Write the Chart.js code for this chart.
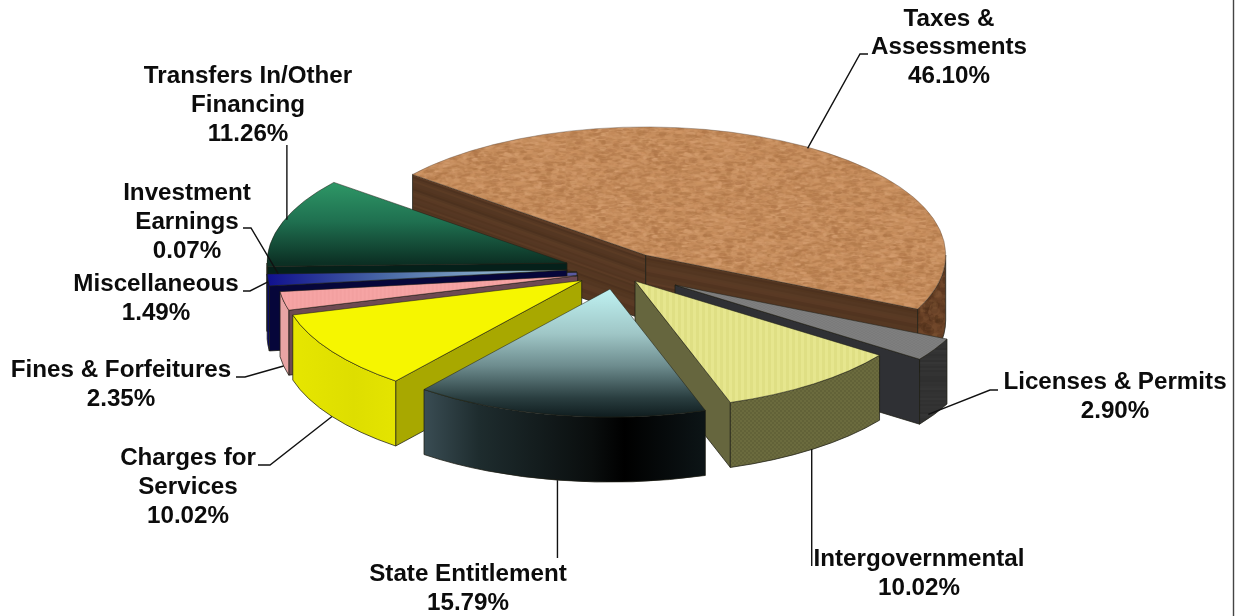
<!DOCTYPE html>
<html>
<head>
<meta charset="utf-8">
<title>Revenue by source</title>
<style>
	html, body { margin: 0; padding: 0; background: #fff; }
	canvas { display: block; }
</style>
<script src="https://cdn.jsdelivr.net/npm/chart.js@4/dist/chart.umd.js"></script>
</head>
<body>
<canvas id="revenuePie" width="1241" height="616"></canvas>
<script>
// Revenue sources, clockwise from the back left of the pie
const categories = [
	'Taxes & Assessments',
	'Licenses & Permits',
	'Intergovernmental',
	'State Entitlement',
	'Charges for Services',
	'Fines & Forfeitures',
	'Miscellaneous',
	'Investment Earnings',
	'Transfers In/Other Financing',
];
const shares = [46.1, 2.9, 10.02, 15.79, 10.02, 2.35, 1.49, 0.07, 11.26];
const labelLines = [
	['Taxes &', 'Assessments'],
	['Licenses & Permits'],
	['Intergovernmental'],
	['State Entitlement'],
	['Charges for', 'Services'],
	['Fines & Forfeitures'],
	['Miscellaneous'],
	['Investment', 'Earnings'],
	['Transfers In/Other', 'Financing'],
];

// How the pie is laid on its side
const TILT = 0.427;
const DEPTH = 65;
const RADIUS = 300;
const PAD_RIGHT = 1;
const PAD_BOTTOM = 73;
// Explosion of each slice on screen, x then y
const sliceShift = [
	[25.7, -16.5], [55, 13.5], [15, 9.5], [-10, 17.5], [-38.3, 9], [-42.3, 4.2], [-53, -1.5], [-43, 0.5], [-53, -8.5],
];
const drawOrder = [0, 8, 7, 6, 5, 4, 1, 2, 3];

// Label anchor: centre x, first baseline. Leader bends are x, y (null x = straight down/up from the rim)
const labelSpots = [
	[949, 25.5], [1115, 389], [919, 566], [468, 581], [188, 465], [121, 377], [156, 291], [187, 200], [248, 83],
];
const leaderBends = [
	[[860, 54], [868, 54]],
	[[990, 390], [998, 390]],
	[[null, 566]],
	[[null, 558]],
	[[270, 465], [258, 465]],
	[[245, 377], [236, 377]],
	[[250, 291], [243, 291]],
	[[251, 228], [243, 228]],
	[[null, 145]],
];
// Where the leader meets the slice, relative to the middle of its rim
const leaderNudge = [[3, 2], [-6, 0], [-2, 0], [-1, 0], [0, 0], [0, 0], [0, 2], [1, -2], [4, -2]];

// Small seeded generator so the textures come out the same every run
const seeded = (seed) => () => {
	seed = (seed * 1664525 + 1013904223) % 4294967296;
	return seed / 4294967296;
};

const tile = (w, h, paint) => {
	const c = document.createElement('canvas');
	c.width = w;
	c.height = h;
	paint(c.getContext('2d'), w, h);
	return c;
};

const speckle = (base, tones, count) =>
	tile(180, 180, (g, w, h) => {
		const rnd = seeded(7);
		g.fillStyle = base;
		g.fillRect(0, 0, w, h);
		for (let i = 0; i < count; i++) {
			g.fillStyle = tones[Math.floor(rnd() * tones.length)];
			g.globalAlpha = 0.2 + rnd() * 0.3;
			g.beginPath();
			g.ellipse(rnd() * w, rnd() * h, 1.5 + rnd() * 3, 1.5 + rnd() * 3, 0, 0, Math.PI * 2);
			g.fill();
		}
	});

const streaks = (base, tones) =>
	tile(8, 64, (g, w, h) => {
		const rnd = seeded(11);
		g.fillStyle = base;
		g.fillRect(0, 0, w, h);
		for (let y = 0; y < h; y += 2) {
			g.fillStyle = tones[Math.floor(rnd() * tones.length)];
			g.globalAlpha = rnd() * 0.45;
			g.fillRect(0, y, w, 2);
		}
	});

const stripes = (a, b, size) =>
	tile(size * 2, 4, (g, w, h) => {
		g.fillStyle = a;
		g.fillRect(0, 0, w, h);
		g.fillStyle = b;
		g.fillRect(size, 0, size, h);
	});

const weave = (a, b) =>
	tile(4, 4, (g) => {
		g.fillStyle = a;
		g.fillRect(0, 0, 4, 4);
		g.fillStyle = b;
		g.fillRect(2, 0, 2, 2);
		g.fillRect(0, 2, 2, 2);
	});

const ramp = (ctx, x0, y0, x1, y1, stops) => {
	const grad = ctx.createLinearGradient(x0, y0, x1, y1);
	stops.forEach(([at, colour]) => grad.addColorStop(at, colour));
	return grad;
};

let fills;
const buildFills = (chart) => {
	const ctx = chart.ctx;
	// chartArea is not set yet the first time options resolve
	const cx = (chart.width - PAD_RIGHT) / 2;
	const cy = (chart.height - PAD_BOTTOM) / 2;
	const r = RADIUS;

	const wood = (deg) => {
		const p = ctx.createPattern(streaks('#563823', ['#4a2e1a', '#654229', '#402818']), 'repeat');
		p.setTransform(new DOMMatrix().skewY(deg));
		return p;
	};
	const cork = speckle('#c68e5e', ['#d8a274', '#b27a4a', '#cf9564', '#ad7446'], 2600);
	const corkDark = speckle('#6a4227', ['#7d5232', '#59361e', '#4a2c18'], 2200);

	fills = {
		top: [
			ctx.createPattern(cork, 'repeat'),
			ctx.createPattern(weave('#7f7f7f', '#7a7a7a'), 'repeat'),
			ctx.createPattern(stripes('#e6e68e', '#dfdf84', 3), 'repeat'),
			ramp(ctx, 0, cy, 0, cy + r, [[0, '#bff2f2'], [0.35, '#9fc6c6'], [0.6, '#6d8c8e'], [0.85, '#2a3e40'], [1, '#0f1c1e']]),
			'#f6f600',
			ctx.createPattern(stripes('#f6a4a4', '#f3a0a0', 2), 'repeat'),
			ramp(ctx, cx - r, 0, cx, 0, [[0, '#10108e'], [0.4, '#4a6aa6'], [1, '#b4dce4']]),
			'#6a6ab0',
			ramp(ctx, 0, cy - r * 0.65, 0, cy, [[0, '#2f9a68'], [0.5, '#1f7050'], [1, '#0c3024']]),
		],
		outer: [
			ctx.createPattern(corkDark, 'repeat'),
			ctx.createPattern(streaks('#333333', ['#2b2b2b', '#3a3a3a']), 'repeat'),
			ctx.createPattern(weave('#6b6b3e', '#626238'), 'repeat'),
			ramp(ctx, cx - 197, 0, cx + 83, 0, [[0, '#3a4d54'], [0.2, '#1e2c2e'], [0.6, '#0a0e0e'], [0.72, '#000000'], [1, '#0c1416']]),
			ramp(ctx, cx - 327, 0, cx - 226, 0, [[0, '#e6e600'], [0.6, '#dede00'], [1, '#e4e400']]),
			'#e8a4a4',
			'#0a0a6c',
			'#3c3c80',
			'#04201a',
		],
		// [face at the slice's first edge, face at its last edge]
		cut: [
			[wood(19.5), wood(11)],
			['#333333', '#2f3034'],
			['#66663e', '#66663e'],
			['#0c1416', '#0c1416'],
			['#a8a800', '#a8a800'],
			['#6e4a52', '#6e4a52'],
			['#06063a', '#06063a'],
			['#5a5aa0', '#5a5aa0'],
			['#05201a', '#05201a'],
		],
	};
	return fills;
};

const sliceFill = (c) => (fills || buildFills(c.chart)).top[c.dataIndex];

const midAngle = (arc) => (arc.startAngle + arc.endAngle) / 2;

// A point on the flattened pie, moved with its slice
const onPie = (arc, i, angle, r) => ({
	x: arc.x + sliceShift[i][0] + Math.cos(angle) * r,
	y: arc.y + sliceShift[i][1] + Math.sin(angle) * r * TILT,
});

const EDGE = 'rgba(30,30,20,0.75)';
const TAXES_EDGE = 'rgba(90,75,65,0.55)';

const drawCutFace = (ctx, arc, i, angle, fill) => {
	const apex = onPie(arc, i, angle, 0);
	const rim = onPie(arc, i, angle, arc.outerRadius);
	ctx.beginPath();
	ctx.moveTo(apex.x, apex.y);
	ctx.lineTo(rim.x, rim.y);
	ctx.lineTo(rim.x, rim.y + DEPTH);
	ctx.lineTo(apex.x, apex.y + DEPTH);
	ctx.closePath();
	ctx.fillStyle = fill;
	ctx.fill();
	ctx.lineWidth = 1;
	ctx.strokeStyle = EDGE;
	ctx.stroke();
};

const drawOuterWall = (ctx, arc, i) => {
	// only the part of the rim facing the viewer
	for (let turn = -1; turn <= 1; turn++) {
		const from = Math.max(arc.startAngle, turn * Math.PI * 2);
		const to = Math.min(arc.endAngle, turn * Math.PI * 2 + Math.PI);
		if (to <= from) continue;
		const o = onPie(arc, i, 0, 0);
		const a = onPie(arc, i, to, arc.outerRadius);
		ctx.beginPath();
		ctx.ellipse(o.x, o.y, arc.outerRadius, arc.outerRadius * TILT, 0, from, to);
		ctx.lineTo(a.x, a.y + DEPTH);
		ctx.ellipse(o.x, o.y + DEPTH, arc.outerRadius, arc.outerRadius * TILT, 0, to, from, true);
		ctx.closePath();
		ctx.fillStyle = fills.outer[i];
		ctx.fill();
		ctx.lineWidth = 1;
		ctx.strokeStyle = EDGE;
		ctx.stroke();
	}
};

const drawWalls = (ctx, arc, i) => {
	// a radial face shows when its outward normal points toward the viewer
	if (Math.sin(arc.startAngle - Math.PI / 2) > 0) drawCutFace(ctx, arc, i, arc.startAngle, fills.cut[i][0]);
	if (Math.sin(arc.endAngle + Math.PI / 2) > 0) drawCutFace(ctx, arc, i, arc.endAngle, fills.cut[i][1]);
	drawOuterWall(ctx, arc, i);
};

const drawLabels = (chart) => {
	const ctx = chart.ctx;
	const arcs = chart.getDatasetMeta(0).data;
	ctx.save();
	ctx.strokeStyle = '#111';
	ctx.lineWidth = 1.4;
	arcs.forEach((arc, i) => {
		const mid = midAngle(arc);
		const rim = onPie(arc, i, mid, arc.outerRadius);
		// slices on the near side take their leader from the bottom of the wall
		const x0 = rim.x + leaderNudge[i][0];
		const y0 = (Math.sin(mid) > 0.15 ? rim.y + DEPTH : rim.y) + leaderNudge[i][1];
		ctx.beginPath();
		ctx.moveTo(x0, y0);
		leaderBends[i].forEach(([x, y]) => ctx.lineTo(x === null ? x0 : x, y));
		ctx.stroke();
	});

	ctx.fillStyle = '#0c0c0c';
	ctx.font = 'bold 24.2px "Liberation Sans", Arial, sans-serif';
	ctx.textAlign = 'center';
	ctx.textBaseline = 'alphabetic';
	categories.forEach((name, i) => {
		const [x, y] = labelSpots[i];
		const lines = [...labelLines[i], shares[i].toFixed(2) + '%'];
		lines.forEach((line, n) => ctx.fillText(line, x, y + n * 28.8));
	});

	// rule down the right side of the frame
	ctx.strokeStyle = '#444';
	ctx.lineWidth = 1.4;
	ctx.beginPath();
	ctx.moveTo(1233.5, 0);
	ctx.lineTo(1233.5, 616);
	ctx.stroke();
	ctx.restore();
};

const tiltedPie = {
	id: 'tiltedPie',
	beforeDatasetsDraw(chart) {
		const ctx = chart.ctx;
		const arcs = chart.getDatasetMeta(0).data;
		drawOrder.forEach((i) => {
			const arc = arcs[i];
			drawWalls(ctx, arc, i);
			ctx.save();
			ctx.translate(arc.x + sliceShift[i][0], arc.y + sliceShift[i][1]);
			ctx.scale(1, TILT);
			ctx.translate(-arc.x, -arc.y);
			arc.draw(ctx);
			ctx.restore();
		});
		return false;
	},
	afterDraw: drawLabels,
};

new Chart(document.getElementById('revenuePie'), {
	type: 'pie',
	data: {
		labels: categories,
		datasets: [
			{
				data: shares,
				backgroundColor: sliceFill,
				borderColor: (c) => (c.dataIndex === 0 ? TAXES_EDGE : EDGE),
				borderWidth: 1,
			},
		],
	},
	options: {
		responsive: false,
		animation: false,
		radius: RADIUS,
		rotation: -51,
		layout: { padding: { left: 0, right: PAD_RIGHT, top: 0, bottom: PAD_BOTTOM } },
		plugins: { legend: { display: false }, tooltip: { enabled: false } },
		events: [],
	},
	plugins: [tiltedPie],
});
</script>
</body>
</html>
